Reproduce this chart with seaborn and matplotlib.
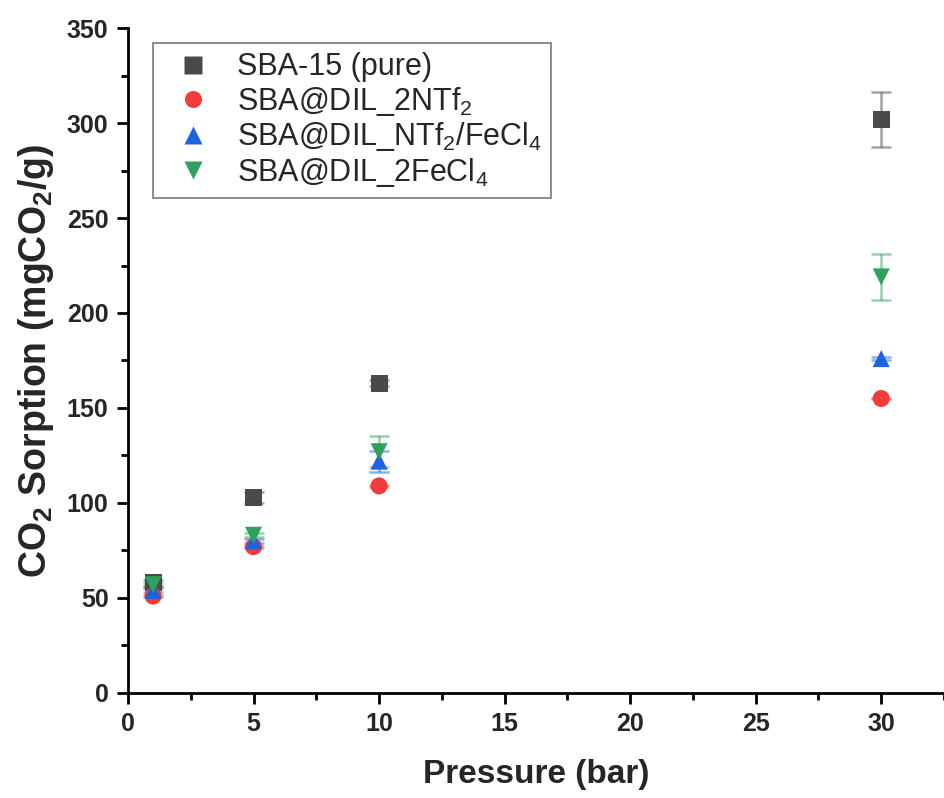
import matplotlib
matplotlib.use("Agg")
import matplotlib.pyplot as plt
import seaborn as sns
import pandas as pd

pressure = [1, 5, 10, 30]
series = ["SBA-15 (pure)", r"SBA@DIL_2NTf$_2$",
          r"SBA@DIL_NTf$_2$/FeCl$_4$", r"SBA@DIL_2FeCl$_4$"]
sba_pure = [58, 103, 163, 302]
sba_2ntf2 = [51, 77, 109, 155]
sba_ntf2_fecl4 = [54, 80, 122, 176]
sba_2fecl4 = [57, 83, 127, 219]
err_pure = [1.5, 3, 1.5, 14.5]
err_2ntf2 = [0.5, 0.5, 0.5, 0.5]
err_ntf2_fecl4 = [1, 1, 5.5, 1]
err_2fecl4 = [1, 1, 8, 12]

colors = ["#4a4a4a", "#f23b3b", "#1c63e0", "#2ea25c"]
markers = ["s", "o", "^", "v"]

values = [sba_pure, sba_2ntf2, sba_ntf2_fecl4, sba_2fecl4]
errors = [err_pure, err_2ntf2, err_ntf2_fecl4, err_2fecl4]

rows = []
for name, vals, errs in zip(series, values, errors):
    for p, v, e in zip(pressure, vals, errs):
        rows.append({"Pressure": p, "Sorption": v, "err": e, "Sample": name})
df = pd.DataFrame(rows)

sns.set_style("white")
plt.rcParams['font.family'] = ['Liberation Sans', 'DejaVu Sans']
plt.rcParams['mathtext.default'] = 'regular'

fig = plt.figure(figsize=(9.44, 7.98), dpi=100)
ax = fig.add_axes([0.1356, 0.1316, 0.8644, 0.8333])

# error bars first so the markers sit on top
for name, col in zip(series, colors):
    d = df[df["Sample"] == name]
    ax.errorbar(d["Pressure"], d["Sorption"], yerr=d["err"], fmt="none",
                ecolor=col, alpha=0.5, capsize=7, elinewidth=1.8, capthick=1.8)

sns.scatterplot(data=df, x="Pressure", y="Sorption", hue="Sample", style="Sample",
                hue_order=series, style_order=series,
                palette=dict(zip(series, colors)), markers=dict(zip(series, markers)),
                s=150, edgecolor="none", ax=ax, zorder=3)

ax.set_xlim(0, 32.1)
ax.set_ylim(0, 350)
ax.set_xticks(range(0, 31, 5))
ax.set_yticks(range(0, 351, 50))
ax.set_xticks([2.5 + 5 * i for i in range(7)], minor=True)
ax.set_yticks([25 + 50 * i for i in range(7)], minor=True)

for s in ["top", "right"]:
    ax.spines[s].set_visible(False)
for s in ["left", "bottom"]:
    ax.spines[s].set_color("black")
    ax.spines[s].set_linewidth(2)

ax.tick_params(which="major", direction="out", length=8, width=2, color="black",
               labelsize=18, left=True, bottom=True, pad=6)
ax.tick_params(which="minor", direction="out", length=5, width=2, color="black",
               left=True, bottom=True)
for lab in ax.get_xticklabels() + ax.get_yticklabels():
    lab.set_fontweight("bold")

ax.set_xlabel("Pressure (bar)", fontsize=24, fontweight="bold", labelpad=16)
ax.set_ylabel(r"CO$_2$ Sorption (mgCO$_2$/g)", fontsize=27, fontweight="bold", labelpad=8)

leg = ax.legend(loc="upper left", bbox_to_anchor=(0.0306, 0.977), borderaxespad=0,
                fontsize=22, frameon=True, fancybox=False, edgecolor="#555555",
                handletextpad=0.45, borderpad=0.3, labelspacing=0.08, markerscale=1.0)
leg.get_frame().set_linewidth(1.2)

plt.savefig("out.png", dpi=100)
